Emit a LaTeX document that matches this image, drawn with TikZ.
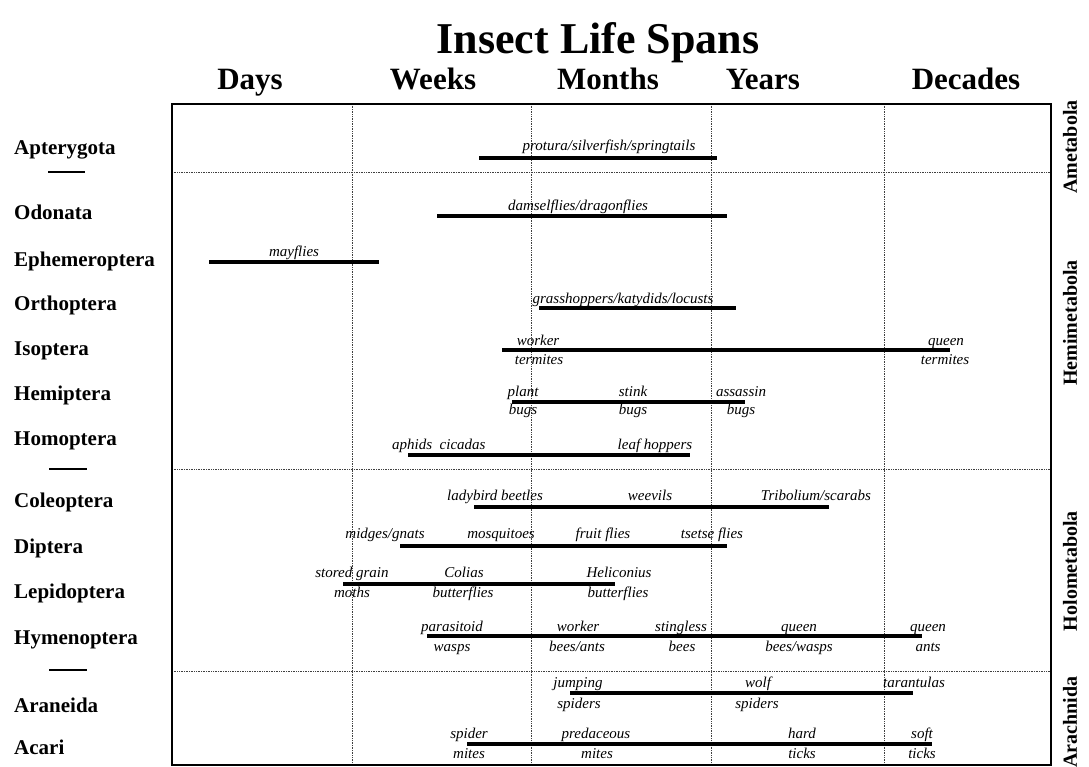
\documentclass[tikz,border=0pt]{standalone}
\usepackage{fontspec}
\setmainfont{Liberation Serif}
\usepackage{tikz}

\begin{document}
\begin{tikzpicture}[x=1pt,y=-1pt]
    \tikzset{titleText/.style = {font=\fontsize{44}{44}\selectfont\bfseries, anchor=base, inner sep=0pt}}
    \tikzset{scaleLabel/.style = {font=\fontsize{31}{31}\selectfont\bfseries, anchor=base, inner sep=0pt}}
    \tikzset{orderName/.style = {font=\fontsize{21}{21}\selectfont\bfseries, anchor=base west, inner sep=0pt}}
    \tikzset{groupName/.style = {font=\fontsize{20}{20}\selectfont\bfseries, rotate=90, inner sep=0pt}}
    \tikzset{spanLabel/.style = {font=\fontsize{15}{15}\selectfont\itshape, anchor=base, inner sep=0pt}}

    \tikzset{spanBar/.style = {line width=3.2pt}}
    \tikzset{orderDash/.style = {line width=2.6pt}}
    \tikzset{gridLine/.style = {densely dotted, line width=0.7pt, black!75}}
    \tikzset{frameBox/.style = {line width=2.8pt}}

    \useasboundingbox (0,0) rectangle (1089,767);

    % title and time scale
    \node[titleText] (title) at (598,54) {Insect Life Spans};
    \node[scaleLabel] (days) at (250,90) {Days};
    \node[scaleLabel] (weeks) at (433,90) {Weeks};
    \node[scaleLabel] (months) at (608,90) {Months};
    \node[scaleLabel] (years) at (763,90) {Years};
    \node[scaleLabel] (decades) at (966,90) {Decades};

    % grid
    \draw[gridLine] (352,104) -- (352,765);
    \draw[gridLine] (531,104) -- (531,765);
    \draw[gridLine] (711,104) -- (711,765);
    \draw[gridLine] (884,104) -- (884,765);
    \draw[gridLine] (172,172) -- (1051,172);
    \draw[gridLine] (172,469) -- (1051,469);
    \draw[gridLine] (172,671) -- (1051,671);
    \draw[frameBox] (172,104) rectangle (1051,765);

    % orders
    \node[orderName] (apterygota) at (14,155) {Apterygota};
    \node[orderName] (odonata) at (14,220) {Odonata};
    \node[orderName] (ephemeroptera) at (14,266) {Ephemeroptera};
    \node[orderName] (orthoptera) at (14,310) {Orthoptera};
    \node[orderName] (isoptera) at (14,355) {Isoptera};
    \node[orderName] (hemiptera) at (14,400) {Hemiptera};
    \node[orderName] (homoptera) at (14,445) {Homoptera};
    \node[orderName] (coleoptera) at (14,507) {Coleoptera};
    \node[orderName] (diptera) at (14,553) {Diptera};
    \node[orderName] (lepidoptera) at (14,598) {Lepidoptera};
    \node[orderName] (hymenoptera) at (14,644) {Hymenoptera};
    \node[orderName] (araneida) at (14,712) {Araneida};
    \node[orderName] (acari) at (14,754) {Acari};

    \draw[orderDash] (48,172) -- (85,172);
    \draw[orderDash] (49,469) -- (87,469);
    \draw[orderDash] (49,670) -- (87,670);

    % groups
    \node[groupName] (ametabola) at (1070,147) {Ametabola};
    \node[groupName] (hemimetabola) at (1070,323) {Hemimetabola};
    \node[groupName] (holometabola) at (1070,571) {Holometabola};
    \node[groupName] (arachnida) at (1070,722) {Arachnida};

    % bar ends
    \coordinate (aptS) at (479,158);  \coordinate (aptE) at (717,158);
    \coordinate (odoS) at (437,216);  \coordinate (odoE) at (727,216);
    \coordinate (ephS) at (209,262);  \coordinate (ephE) at (379,262);
    \coordinate (ortS) at (539,308);  \coordinate (ortE) at (736,308);
    \coordinate (isoS) at (502,350);  \coordinate (isoE) at (950,350);
    \coordinate (hemS) at (512,402);  \coordinate (hemE) at (745,402);
    \coordinate (homS) at (408,455);  \coordinate (homE) at (690,455);
    \coordinate (colS) at (474,507);  \coordinate (colE) at (829,507);
    \coordinate (dipS) at (400,546);  \coordinate (dipE) at (727,546);
    \coordinate (lepS) at (343,584);  \coordinate (lepE) at (615,584);
    \coordinate (hymS) at (427,636);  \coordinate (hymE) at (922,636);
    \coordinate (araS) at (570,693);  \coordinate (araE) at (913,693);
    \coordinate (acaS) at (467,744);  \coordinate (acaE) at (932,744);

    \draw[spanBar] (aptS) -- (aptE);
    \draw[spanBar] (odoS) -- (odoE);
    \draw[spanBar] (ephS) -- (ephE);
    \draw[spanBar] (ortS) -- (ortE);
    \draw[spanBar] (isoS) -- (isoE);
    \draw[spanBar] (hemS) -- (hemE);
    \draw[spanBar] (homS) -- (homE);
    \draw[spanBar] (colS) -- (colE);
    \draw[spanBar] (dipS) -- (dipE);
    \draw[spanBar] (lepS) -- (lepE);
    \draw[spanBar] (hymS) -- (hymE);
    \draw[spanBar] (araS) -- (araE);
    \draw[spanBar] (acaS) -- (acaE);

    % labels on the bars
    \node[spanLabel] (apt1) at (609,151) {protura/silverfish/springtails};
    \node[spanLabel] (odo1) at (578,211) {damselflies/dragonflies};
    \node[spanLabel] (eph1) at (294,257) {mayflies};
    \node[spanLabel] (ort1) at (623,303) {grasshoppers/katydids/locusts};

    \node[spanLabel] (iso1) at (538,345) {worker};
    \node[spanLabel] (iso2) at (539,364) {termites};
    \node[spanLabel] (iso3) at (946,345) {queen};
    \node[spanLabel] (iso4) at (945,364) {termites};

    \node[spanLabel] (hem1) at (523,396) {plant};
    \node[spanLabel] (hem2) at (523,414) {bugs};
    \node[spanLabel] (hem3) at (633,396) {stink};
    \node[spanLabel] (hem4) at (633,414) {bugs};
    \node[spanLabel] (hem5) at (741,396) {assassin};
    \node[spanLabel] (hem6) at (741,414) {bugs};

    \node[spanLabel, anchor=base west] (hom1) at (392,449) {aphids\ \ cicadas};
    \node[spanLabel] (hom2) at (655,449) {leaf hoppers};

    \node[spanLabel] (col1) at (495,500) {ladybird beetles};
    \node[spanLabel] (col2) at (650,500) {weevils};
    \node[spanLabel] (col3) at (816,500) {Tribolium/scarabs};

    \node[spanLabel] (dip1) at (385,538) {midges/gnats};
    \node[spanLabel] (dip2) at (501,538) {mosquitoes};
    \node[spanLabel] (dip3) at (603,538) {fruit flies};
    \node[spanLabel] (dip4) at (712,538) {tsetse flies};

    \node[spanLabel] (lep1) at (352,577) {stored grain};
    \node[spanLabel] (lep2) at (352,597) {moths};
    \node[spanLabel] (lep3) at (464,577) {Colias};
    \node[spanLabel] (lep4) at (463,597) {butterflies};
    \node[spanLabel] (lep5) at (619,577) {Heliconius};
    \node[spanLabel] (lep6) at (618,597) {butterflies};

    \node[spanLabel] (hym1) at (452,631) {parasitoid};
    \node[spanLabel] (hym2) at (452,651) {wasps};
    \node[spanLabel] (hym3) at (578,631) {worker};
    \node[spanLabel] (hym4) at (577,651) {bees/ants};
    \node[spanLabel] (hym5) at (681,631) {stingless};
    \node[spanLabel] (hym6) at (682,651) {bees};
    \node[spanLabel] (hym7) at (799,631) {queen};
    \node[spanLabel] (hym8) at (799,651) {bees/wasps};
    \node[spanLabel] (hym9) at (928,631) {queen};
    \node[spanLabel] (hym10) at (928,651) {ants};

    \node[spanLabel] (ara1) at (578,687) {jumping};
    \node[spanLabel] (ara2) at (579,708) {spiders};
    \node[spanLabel] (ara3) at (758,687) {wolf};
    \node[spanLabel] (ara4) at (757,708) {spiders};
    \node[spanLabel] (ara5) at (914,687) {tarantulas};

    \node[spanLabel] (aca1) at (469,738) {spider};
    \node[spanLabel] (aca2) at (469,758) {mites};
    \node[spanLabel] (aca3) at (596,738) {predaceous};
    \node[spanLabel] (aca4) at (597,758) {mites};
    \node[spanLabel] (aca5) at (802,738) {hard};
    \node[spanLabel] (aca6) at (802,758) {ticks};
    \node[spanLabel] (aca7) at (922,738) {soft};
    \node[spanLabel] (aca8) at (922,758) {ticks};
\end{tikzpicture}
\end{document}
